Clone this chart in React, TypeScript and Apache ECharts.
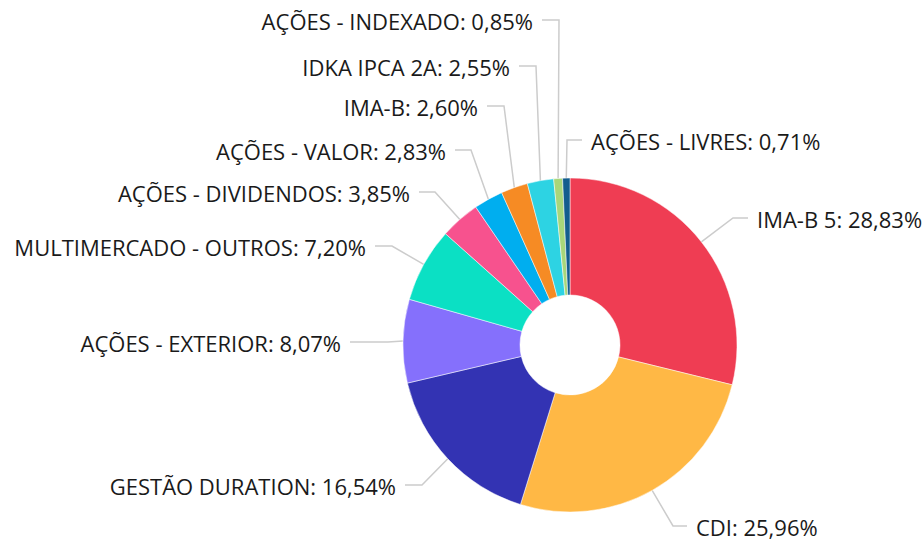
import React, { useEffect, useRef } from "react";
import * as echarts from "echarts";

const categories = [
  "IMA-B 5",
  "CDI",
  "GESTÃO DURATION",
  "AÇÕES - EXTERIOR",
  "MULTIMERCADO - OUTROS",
  "AÇÕES - DIVIDENDOS",
  "AÇÕES - VALOR",
  "IMA-B",
  "IDKA IPCA 2A",
  "AÇÕES - INDEXADO",
  "AÇÕES - LIVRES",
];
const values = [28.83, 25.96, 16.54, 8.07, 7.2, 3.85, 2.83, 2.6, 2.55, 0.85, 0.71];
const colors = [
  "#ef3d53",
  "#ffb845",
  "#3333b3",
  "#8570fc",
  "#0be0c4",
  "#f7528e",
  "#00aeef",
  "#f68b24",
  "#2dd3e3",
  "#a8d67a",
  "#135d8e",
];

// label layout (positions only)
const labelSide = ["right", "right", "left", "left", "left", "left", "left", "left", "left", "left", "right"];
const elbowX = [733, 673, 422, 388, 392, 435, 471, 504, 536, 559, 567];
const lineY = [218, 526, 485, 342, 246, 192, 150, 106, 66, 20, 140];
const endX = [748, 687, 405, 350, 375, 419, 455, 487, 519, 542, 582];

export default function App() {
  const ref = useRef<HTMLDivElement>(null);
  useEffect(() => {
    document.body.style.margin = "0";
    const chart = echarts.init(ref.current!, null, { renderer: "svg" });
    chart.setOption({
      animation: false,
      series: [
        {
          type: "pie",
          center: [570, 345],
          radius: [50, 167],
          startAngle: 90,
          clockwise: true,
          avoidLabelOverlap: false,
          data: categories.map((c, i) => ({
            name: c,
            value: values[i],
            itemStyle: { color: colors[i] },
          })),
          itemStyle: { borderColor: "#ffffff", borderWidth: 0.5 },
          label: {
            show: true,
            fontFamily: "Open Sans",
            fontSize: 22,
            color: "#1a1a1a",
            formatter: (p: any) => `${p.name}: ${p.value.toFixed(2).replace(".", ",")}%`,
          },
          labelLine: {
            show: true,
            length: 20,
            length2: 15,
            lineStyle: { color: "#cccccc", width: 1.5 },
          },
          labelLayout: (params: any) => {
            const i = params.dataIndex;
            const start = params.labelLinePoints ? params.labelLinePoints[0] : [elbowX[i], lineY[i]];
            const right = labelSide[i] === "right";
            return {
              x: right ? endX[i] + 9 : endX[i] - 9,
              y: lineY[i] + 1,
              align: right ? "left" : "right",
              verticalAlign: "middle",
              labelLinePoints: [start, [elbowX[i], lineY[i]], [endX[i], lineY[i]]],
            };
          },
        },
      ],
    });
    return () => chart.dispose();
  }, []);
  return <div ref={ref} style={{ width: 923, height: 541 }} />;
}
